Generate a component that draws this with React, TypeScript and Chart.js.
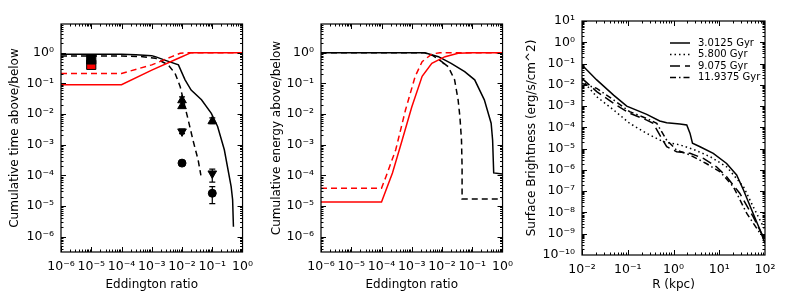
import React, { useEffect, useRef } from "react";
import { Chart, registerables } from "chart.js";
Chart.register(...registerables);

const FONT = "'DejaVu Sans', sans-serif";

// ---------- tick values ----------
const eddTicks = [1e-6, 1e-5, 1e-4, 1e-3, 1e-2, 1e-1, 1];
const cumTicks = [1e-6, 1e-5, 1e-4, 1e-3, 1e-2, 1e-1, 1];
const rTicks = [1e-2, 1e-1, 1, 10, 100];
const sbTicks = [1e-10, 1e-9, 1e-8, 1e-7, 1e-6, 1e-5, 1e-4, 1e-3, 1e-2, 1e-1, 1, 10];

// ---------- panel 1 : cumulative time ----------
const timeAboveSolid: [number, number][] = [
  [1e-6, 0.88], [1e-4, 0.88], [3e-4, 0.86], [1e-3, 0.8], [1.3e-3, 0.74], [3e-3, 0.55],
  [7.6e-3, 0.4], [1.26e-2, 0.13], [2e-2, 0.06], [4.4e-2, 0.029], [9.3e-2, 0.0105],
  [0.15, 0.0039], [0.25, 6.8e-4], [0.42, 4.3e-5], [0.47, 1.6e-5], [0.5, 2.1e-6],
];
const timeAboveDashed: [number, number][] = [
  [1e-6, 0.78], [1e-4, 0.78], [5e-4, 0.74], [1.3e-3, 0.66], [3.5e-3, 0.4], [5.9e-3, 0.21],
  [8.7e-3, 0.078], [1.1e-2, 0.029], [1.6e-2, 6.4e-3], [2.3e-2, 1.4e-3], [3.4e-2, 3.2e-4],
  [4.2e-2, 1.0e-4],
];
const timeBelowSolid: [number, number][] = [
  [1e-6, 0.09], [1e-4, 0.09], [1e-3, 0.27], [7.6e-3, 0.66], [2e-2, 1.0], [1, 1.0],
];
const timeBelowDashed: [number, number][] = [
  [1e-6, 0.21], [1e-4, 0.21], [1e-3, 0.4], [4.6e-3, 0.74], [8.7e-3, 0.95], [1.5e-2, 1.0], [1, 1.0],
];
const obsSquareBlack: [number, number][] = [[1e-5, 0.6]];
const obsSquareRed: [number, number][] = [[1e-5, 0.4]];
const obsTriUp: [number, number][] = [[1e-2, 0.028], [1e-2, 0.018], [0.1, 5.8e-3]];
const obsTriDown: [number, number][] = [[1e-2, 2.7e-3], [0.1, 1.15e-4]];
const obsCircle: [number, number][] = [[1e-2, 2.5e-4], [0.1, 2.6e-5]];
// [x, low, high]
const obsErrors: [number, number, number][] = [
  [1e-2, 0.017, 0.036], [0.1, 4.8e-3, 7.5e-3], [1e-2, 2.3e-3, 3.2e-3],
  [0.1, 6e-5, 1.6e-4], [0.1, 1.2e-5, 4.3e-5],
];

// ---------- panel 2 : cumulative energy ----------
const energyAboveSolid: [number, number][] = [
  [1e-6, 1], [2.7e-3, 1], [7.6e-3, 0.74], [2e-2, 0.45], [5.6e-2, 0.24], [0.12, 0.13],
  [0.25, 0.029], [0.42, 5e-3], [0.47, 1.4e-3], [0.51, 1.2e-4], [1, 1.1e-4],
];
const energyAboveDashed: [number, number][] = [
  [1e-6, 1], [2.5e-3, 1], [5e-3, 0.8], [1e-2, 0.5], [1.25e-2, 0.38], [1.15e-2, 0.45],
  [1.6e-2, 0.35], [2.6e-2, 0.13], [3.4e-2, 0.029], [3.9e-2, 8e-3], [4.4e-2, 1.4e-3],
  [4.6e-2, 1.9e-4], [4.6e-2, 1.7e-5], [1, 1.7e-5],
];
const energyBelowSolid: [number, number][] = [
  [1e-6, 1.35e-5], [1e-4, 1.35e-5], [2.3e-4, 1.2e-4], [4.8e-4, 1.4e-3], [1e-3, 0.017],
  [2.2e-3, 0.17], [4.6e-3, 0.45], [1.26e-2, 0.74], [3.4e-2, 0.95], [0.1, 1], [1, 1],
];
const energyBelowDashed: [number, number][] = [
  [1e-6, 3.8e-5], [1e-4, 3.8e-5], [1.4e-4, 9e-5], [2.95e-4, 6.8e-4], [6.2e-4, 0.0135],
  [1.3e-3, 0.17], [2.2e-3, 0.51], [4.6e-3, 0.9], [8.5e-3, 1], [1, 1],
];

// ---------- panel 3 : surface brightness ----------
const sbLabels = ["3.0125 Gyr", "5.800 Gyr", "9.075 Gyr", "11.9375 Gyr"];
const sb30125: [number, number][] = [
  [0.01, 0.085], [0.021, 0.017], [0.049, 3.3e-3], [0.095, 1e-3], [0.26, 4.1e-4], [0.5, 2.0e-4],
  [0.71, 1.66e-4], [1.38, 1.45e-4], [1.95, 1.3e-4], [2.3, 5.2e-5], [2.6, 1.8e-5], [3.8, 1.23e-5],
  [7.4, 6e-6], [14.5, 2e-6], [24, 5.8e-7], [34, 1.1e-7], [55, 9e-9], [78, 1.5e-9], [100, 3.5e-10],
];
const sb5800: [number, number][] = [
  [0.01, 0.017], [0.021, 2.75e-3], [0.049, 6.6e-4], [0.11, 1.55e-4], [0.26, 5.2e-5], [0.6, 2.1e-5],
  [1.38, 1.5e-5], [2.7, 9.3e-6], [6.3, 4.2e-6], [14.5, 1.4e-6], [34, 1.6e-7], [55, 1.9e-8], [100, 1.5e-9],
];
const sb9075: [number, number][] = [
  [0.01, 0.02], [0.021, 4.8e-3], [0.049, 1.35e-3], [0.11, 4.6e-4], [0.26, 2.2e-4], [0.36, 1.55e-4],
  [0.5, 4.4e-5], [0.71, 1.23e-5], [1.17, 7.2e-6], [2.3, 6e-6], [4.5, 3.5e-6], [8.7, 1.4e-6],
  [14.5, 4.8e-7], [28, 8e-8], [55, 6.3e-9], [100, 5e-10],
];
const sb119375: [number, number][] = [
  [0.01, 0.0117], [0.021, 6.8e-3], [0.049, 1.95e-3], [0.11, 5.5e-4], [0.26, 2.6e-4], [0.43, 1.55e-4],
  [0.71, 2.5e-5], [1.17, 8.5e-6], [2.3, 5e-6], [5.2, 2e-6], [10.5, 8.1e-7], [20.4, 1.6e-7],
  [40, 9e-9], [78, 1.05e-9], [100, 7.2e-10],
];

// ---------- helpers ----------
const SUP: Record<string, string> = {
  "-": "\u207B", "0": "\u2070", "1": "\u00B9", "2": "\u00B2", "3": "\u00B3", "4": "\u2074",
  "5": "\u2075", "6": "\u2076", "7": "\u2077", "8": "\u2078", "9": "\u2079",
};
const fmtPow = (v: number) => {
  const e = Math.round(Math.log10(v));
  return "10" + String(e).split("").map((c) => SUP[c]).join("");
};
const pts = (arr: [number, number][]) => arr.map(([x, y]) => ({ x, y }));

const lineDs = (data: [number, number][], color: string, dash: number[] = [], width = 1.5) => ({
  type: "line" as const,
  data: pts(data),
  borderColor: color,
  backgroundColor: color,
  borderWidth: width,
  borderDash: dash,
  pointRadius: 0,
  fill: false,
  tension: 0,
});
const markDs = (data: [number, number][], color: string, style: string, radius: number, rotation = 0, border = "#000") => ({
  type: "scatter" as const,
  data: pts(data),
  showLine: false,
  pointStyle: style,
  pointRadius: radius,
  pointRotation: rotation,
  backgroundColor: color,
  borderColor: border,
  borderWidth: 1,
});

const logMinor = (min: number, max: number) => {
  const out: number[] = [];
  const lo = Math.floor(Math.log10(min));
  const hi = Math.ceil(Math.log10(max));
  for (let e = lo; e <= hi; e++) {
    for (let k = 2; k <= 9; k++) {
      const v = k * Math.pow(10, e);
      if (v > min && v < max) out.push(v);
    }
  }
  return out;
};

const boxTicksPlugin = {
  id: "boxTicks",
  afterDatasetsDraw(chart: any) {
    const { ctx, chartArea: a, scales } = chart;
    const xs = scales.x, ys = scales.y;
    ctx.save();
    ctx.strokeStyle = "#000";
    ctx.lineWidth = 1;
    const drawX = (vals: number[], len: number) => {
      vals.forEach((v) => {
        const p = Math.round(xs.getPixelForValue(v)) + 0.5;
        if (p < a.left || p > a.right) return;
        ctx.beginPath();
        ctx.moveTo(p, a.bottom); ctx.lineTo(p, a.bottom - len);
        ctx.moveTo(p, a.top); ctx.lineTo(p, a.top + len);
        ctx.stroke();
      });
    };
    const drawY = (vals: number[], len: number) => {
      vals.forEach((v) => {
        const p = Math.round(ys.getPixelForValue(v)) + 0.5;
        if (p < a.top || p > a.bottom) return;
        ctx.beginPath();
        ctx.moveTo(a.left, p); ctx.lineTo(a.left + len, p);
        ctx.moveTo(a.right, p); ctx.lineTo(a.right - len, p);
        ctx.stroke();
      });
    };
    drawX(xs.ticks.map((t: any) => t.value), 5);
    drawX(logMinor(xs.min, xs.max), 2.5);
    drawY(ys.ticks.map((t: any) => t.value), 5);
    drawY(logMinor(ys.min, ys.max), 2.5);
    ctx.lineWidth = 1.2;
    ctx.strokeRect(a.left, a.top, a.right - a.left, a.bottom - a.top);
    ctx.restore();
  },
};

const errorBarPlugin = {
  id: "errorBars",
  afterDatasetsDraw(chart: any, _args: any, opts: any) {
    const bars: [number, number, number][] = opts && opts.bars;
    if (!bars) return;
    const { ctx, scales } = chart;
    ctx.save();
    ctx.strokeStyle = "#000";
    ctx.lineWidth = 1.2;
    bars.forEach(([x, lo, hi]) => {
      const px = scales.x.getPixelForValue(x);
      const p1 = scales.y.getPixelForValue(lo);
      const p2 = scales.y.getPixelForValue(hi);
      ctx.beginPath();
      ctx.moveTo(px, p1); ctx.lineTo(px, p2);
      ctx.moveTo(px - 3, p1); ctx.lineTo(px + 3, p1);
      ctx.moveTo(px - 3, p2); ctx.lineTo(px + 3, p2);
      ctx.stroke();
    });
    ctx.restore();
  },
};

const legendPlugin = {
  id: "lineLegend",
  afterDatasetsDraw(chart: any, _args: any, opts: any) {
    if (!opts || !opts.show) return;
    const { ctx } = chart;
    ctx.save();
    ctx.font = `10px ${FONT}`;
    ctx.fillStyle = "#000";
    ctx.textBaseline = "middle";
    chart.data.datasets.forEach((ds: any, i: number) => {
      const y = opts.y0 + i * opts.dy;
      ctx.strokeStyle = ds.borderColor;
      ctx.lineWidth = ds.borderWidth;
      ctx.setLineDash(ds.borderDash || []);
      ctx.beginPath();
      ctx.moveTo(opts.x0, y); ctx.lineTo(opts.x0 + opts.len, y);
      ctx.stroke();
      ctx.setLineDash([]);
      ctx.fillText(ds.label, opts.x0 + opts.len + 8, y);
    });
    ctx.restore();
  },
};

const axis = (
  min: number, max: number, ticks: number[], title: string, fit: number, horiz: boolean, titlePad: number, tickPad: number,
) => ({
  type: "logarithmic" as const,
  min, max,
  grid: { display: false, drawTicks: false },
  border: { display: false },
  afterBuildTicks: (s: any) => { s.ticks = ticks.map((v) => ({ value: v })); },
  afterFit: (s: any) => { if (horiz) s.height = fit; else s.width = fit; },
  ticks: {
    callback: (v: any) => fmtPow(Number(v)),
    font: { family: FONT, size: 12.5 },
    color: "#000",
    padding: tickPad,
    autoSkip: false,
    maxRotation: 0,
    minRotation: 0,
  },
  title: {
    display: true,
    text: title,
    color: "#000",
    font: { family: FONT, size: 12 },
    padding: horiz ? { top: 0, bottom: titlePad } : { top: titlePad, bottom: 0 },
  },
});

const baseOptions = (xAxis: any, yAxis: any, pad: any, extra: any = {}) => ({
  responsive: false,
  maintainAspectRatio: false,
  animation: false as const,
  events: [],
  layout: { padding: pad },
  plugins: { legend: { display: false }, tooltip: { enabled: false }, ...extra },
  scales: { x: xAxis, y: yAxis },
});

export default function App() {
  const r1 = useRef<HTMLCanvasElement>(null);
  const r2 = useRef<HTMLCanvasElement>(null);
  const r3 = useRef<HTMLCanvasElement>(null);

  useEffect(() => {
    const RED = "#ff0000";
    const BLK = "#000000";
    const DASH = [6, 4];
    const c1 = new Chart(r1.current!, {
      type: "line",
      data: {
        datasets: [
          lineDs(timeBelowSolid, RED),
          lineDs(timeBelowDashed, RED, DASH),
          lineDs(timeAboveSolid, BLK),
          lineDs(timeAboveDashed, BLK, DASH),
          markDs(obsSquareBlack, BLK, "rect", 6.5),
          markDs(obsSquareRed, RED, "rect", 6.5),
          markDs(obsTriUp, BLK, "triangle", 5),
          markDs(obsTriDown, BLK, "triangle", 5, 180),
          markDs(obsCircle, BLK, "circle", 4),
        ] as any,
      },
      options: baseOptions(
        axis(1e-6, 1, eddTicks, "Eddington ratio", 55, true, 15, 7),
        axis(3.16e-7, 8.6, cumTicks, "Cumulative time above/below", 61, false, 8, 7),
        { left: 0, right: 15, top: 24, bottom: 0 },
        { errorBars: { bars: obsErrors } },
      ) as any,
      plugins: [boxTicksPlugin, errorBarPlugin],
    });
    const c2 = new Chart(r2.current!, {
      type: "line",
      data: {
        datasets: [
          lineDs(energyBelowSolid, RED),
          lineDs(energyBelowDashed, RED, DASH),
          lineDs(energyAboveSolid, BLK),
          lineDs(energyAboveDashed, BLK, DASH),
        ] as any,
      },
      options: baseOptions(
        axis(1e-6, 1, eddTicks, "Eddington ratio", 55, true, 15, 7),
        axis(3.16e-7, 8.6, cumTicks, "Cumulative energy above/below", 61, false, 10, 7),
        { left: 0, right: 15, top: 24, bottom: 0 },
      ) as any,
      plugins: [boxTicksPlugin],
    });
    const c3 = new Chart(r3.current!, {
      type: "line",
      data: {
        datasets: [
          { ...lineDs(sb30125, BLK), label: sbLabels[0] },
          { ...lineDs(sb5800, BLK, [1.5, 3]), label: sbLabels[1] },
          { ...lineDs(sb9075, BLK, [10, 5]), label: sbLabels[2] },
          { ...lineDs(sb119375, BLK, [6, 3, 1.5, 3]), label: sbLabels[3] },
        ] as any,
      },
      options: baseOptions(
        axis(1e-2, 100, rTicks, "R (kpc)", 52, true, 15, 7),
        axis(1e-10, 10, sbTicks, "Surface Brightness (erg/s/cm^2)", 62, false, 4.5, 7),
        { left: 0, right: 24, top: 21, bottom: 0 },
        { lineLegend: { show: true, x0: 150, y0: 43, dy: 11.5, len: 20 } },
      ) as any,
      plugins: [boxTicksPlugin, legendPlugin],
    });
    return () => { c1.destroy(); c2.destroy(); c3.destroy(); };
  }, []);

  return (
    <div style={{ position: "absolute", left: 0, top: 0, width: 789, height: 307, background: "#fff" }}>
      <canvas ref={r1} width={260} height={307} style={{ position: "absolute", left: 0, top: 0 }} />
      <canvas ref={r2} width={260} height={307} style={{ position: "absolute", left: 260, top: 0 }} />
      <canvas ref={r3} width={269} height={307} style={{ position: "absolute", left: 520, top: 0 }} />
    </div>
  );
}
